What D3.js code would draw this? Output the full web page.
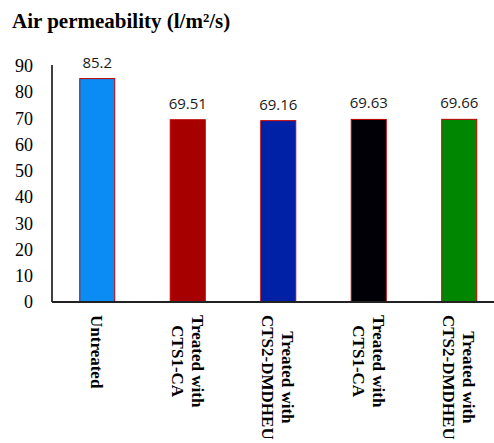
<!DOCTYPE html>
<html>
<head>
<meta charset="utf-8">
<script src="https://cdn.jsdelivr.net/npm/d3@7"></script>
<style>
  html, body { margin: 0; padding: 0; background: #fff; }
  svg { display: block; }
  .serif { font-family: "Liberation Serif", "Times New Roman", serif; }
</style>
</head>
<body>
<svg id="chart" width="494" height="443"></svg>
<script>
// Air permeability per fabric treatment
const categories = [
  ["Untreated"],
  ["Treated with", "CTS1-CA"],
  ["Treated with", "CTS2-DMDHEU"],
  ["Treated with", "CTS1-CA"],
  ["Treated with", "CTS2-DMDHEU"]
];
const values = [85.2, 69.51, 69.16, 69.63, 69.66];
const barColors = ["#0a8cf2", "#a60000", "#0021a5", "#000006", "#008600"];
const yTicks = [0, 10, 20, 30, 40, 50, 60, 70, 80, 90];
const titleText = "Air permeability (l/m\u00b2/s)";

const svg = d3.select("#chart");
const axisX = 52, baseY = 302, topY = 66;

const x = d3.scaleBand()
  .domain(d3.range(values.length))
  .range([axisX, axisX + 90.5 * values.length])
  .paddingInner(0.613)
  .paddingOuter(0.3065);

const y = d3.scaleLinear().domain([0, 90]).range([baseY, topY]);

// title
svg.append("text")
  .attr("class", "serif")
  .attr("x", 12).attr("y", 28)
  .attr("font-weight", "bold")
  .attr("font-size", 21)
  .attr("fill", "#000")
  .text(titleText);

// bars
svg.append("g").selectAll("rect")
  .data(values)
  .join("rect")
  .attr("x", (d, i) => x(i))
  .attr("y", d => y(d))
  .attr("width", x.bandwidth())
  .attr("height", d => baseY - y(d))
  .attr("fill", (d, i) => barColors[i])
  .attr("stroke", "#c00000")
  .attr("stroke-width", 1);

// value labels
svg.append("g").selectAll("text")
  .data(values)
  .join("text")
  .attr("x", (d, i) => x(i) + x.bandwidth() / 2)
  .attr("y", d => y(d) - 11)
  .attr("text-anchor", "middle")
  .attr("font-family", "'Open Sans', sans-serif")
  .attr("font-size", 15)
  .attr("fill", "#1a1a1a")
  .text(d => d);

// y axis
const yAxis = d3.axisLeft(y).tickValues(yTicks).tickSize(0).tickPadding(19).tickFormat(d3.format("d"));
const gy = svg.append("g").attr("transform", `translate(${axisX},0)`).call(yAxis);
gy.attr("font-family", null).attr("font-size", null);
gy.select(".domain").attr("d", `M0,${topY - 1}V${baseY}`).attr("stroke", "#000").attr("stroke-width", 1.5);
gy.selectAll("text")
  .attr("class", "serif")
  .attr("font-size", 18)
  .attr("fill", "#000");

// x axis
const xAxis = d3.axisBottom(x).tickSize(0).tickFormat("");
const gx = svg.append("g").attr("transform", `translate(0,${baseY})`).call(xAxis);
gx.select(".domain").attr("d", `M${axisX},0H494`).attr("stroke", "#222").attr("stroke-width", 2);

// rotated category labels
const labelTop = 315;
const lab = svg.append("g")
  .attr("class", "serif")
  .attr("font-weight", "bold")
  .attr("font-size", 17)
  .attr("fill", "#000");

categories.forEach((lines, i) => {
  const cx = x(i) + x.bandwidth() / 2;
  const g = lab.append("g");
  const texts = lines.map(t => g.append("text").attr("text-anchor", "middle").text(t));
  const maxLen = d3.max(texts, t => t.node().getComputedTextLength());
  const lineH = 20;
  const n = lines.length;
  texts.forEach((t, j) => {
    // first line sits on the right, later lines to its left
    const off = ((n - 1) / 2 - j) * lineH;
    t.attr("transform", `translate(${cx + off - 6},${labelTop + maxLen / 2}) rotate(90)`);
  });
});
</script>
</body>
</html>
